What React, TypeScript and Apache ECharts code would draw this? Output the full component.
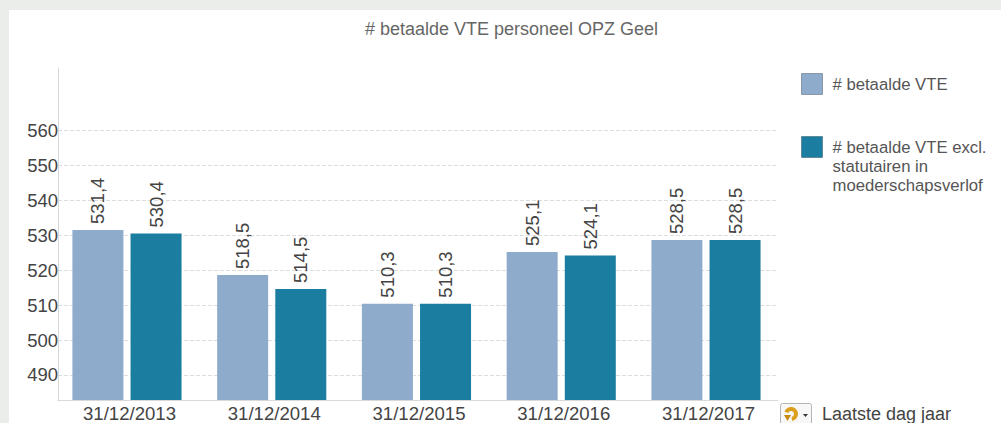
import React, { useEffect, useRef } from "react";
import * as echarts from "echarts";

const FONT = '"Liberation Sans", Arial, sans-serif';
const TITLE = "# betaalde VTE personeel OPZ Geel";
const CATEGORIES = ["31/12/2013", "31/12/2014", "31/12/2015", "31/12/2016", "31/12/2017"];
const SERIES_A_NAME = "# betaalde VTE";
const SERIES_B_NAME = "# betaalde VTE excl. statutairen in moederschapsverlof";
const SERIES_A = [531.4, 518.5, 510.3, 525.1, 528.5];
const SERIES_B = [530.4, 514.5, 510.3, 524.1, 528.5];
const Y_TICKS = [490, 500, 510, 520, 530, 540, 550, 560];
const FOOT_LABEL = "Laatste dag jaar";

const fmt = (v: number) => v.toFixed(1).replace(".", ",");

export default function App() {
  const ref = useRef<HTMLDivElement>(null);
  useEffect(() => {
    const chart = echarts.init(ref.current!, null, { renderer: "svg" });
    const yMin = 482.7;
    const yMax = 577.8;
    const labelCfg = {
      show: true,
      position: "top" as const,
      rotate: 90,
      distance: 6,
      color: "#444",
      fontFamily: FONT,
      fontSize: 18.5,
      align: "left" as const,
      verticalAlign: "middle" as const,
      formatter: (p: any) => fmt(p.value),
    };
    chart.setOption({
      animation: false,
      backgroundColor: "transparent",
      title: {
        text: TITLE,
        left: 506.5,
        top: 15,
        textAlign: "center",
        textStyle: { color: "#666", fontFamily: FONT, fontSize: 18, fontWeight: "normal" },
      },
      legend: {
        orient: "vertical",
        left: 796,
        top: 68,
        itemWidth: 21,
        itemHeight: 21,
        itemGap: 4.5,
        selectedMode: false,
        icon: "rect",
        textStyle: {
          color: "#555",
          fontFamily: FONT,
          fontSize: 16.7,
          lineHeight: 19,
          padding: [0, 0, 0, 5],
        },
        formatter: (n: string) =>
          n === SERIES_B_NAME ? "\n\n# betaalde VTE excl.\nstatutairen in\nmoederschapsverlof" : n,
        data: [
          { name: SERIES_A_NAME, itemStyle: { borderColor: "#8a97a8", borderWidth: 1 } },
          { name: SERIES_B_NAME, itemStyle: { borderColor: "#5f8a9c", borderWidth: 1 } },
        ],
      },
      grid: [
        { left: 58, top: 68, width: 720, height: 332.5 },
        { left: 54.6, top: 68, width: 723.75, height: 332.5 },
      ],
      xAxis: [
        {
          type: "category",
          gridIndex: 0,
          data: CATEGORIES,
          axisLine: { show: true, lineStyle: { color: "#d9d9d9", width: 1 } },
          axisTick: { show: false },
          axisLabel: { show: false },
          splitLine: { show: false },
        },
        {
          type: "category",
          gridIndex: 1,
          data: CATEGORIES,
          axisLine: { show: false },
          axisTick: { show: false },
          axisLabel: {
            color: "#444",
            fontFamily: FONT,
            fontSize: 18.6,
            margin: 4,
            padding: [0, 0, 0, 5],
          },
        },
      ],
      yAxis: [
        {
          type: "value",
          gridIndex: 0,
          min: yMin,
          max: yMax,
          axisLine: { show: true, lineStyle: { color: "#d9d9d9", width: 1 } },
          axisTick: { show: false, customValues: Y_TICKS },
          axisLabel: {
            customValues: Y_TICKS,
            color: "#444",
            fontFamily: FONT,
            fontSize: 18.5,
            margin: 0,
          },
          splitLine: { show: true, lineStyle: { color: "#dddddd", type: "dashed", width: 1 } },
        },
        {
          type: "value",
          gridIndex: 1,
          min: yMin,
          max: yMax,
          axisLine: { show: false },
          axisTick: { show: false },
          axisLabel: { show: false },
          splitLine: { show: false },
        },
      ],
      series: [
        {
          name: SERIES_A_NAME,
          type: "bar",
          xAxisIndex: 1,
          yAxisIndex: 1,
          data: SERIES_A,
          barWidth: 51,
          barGap: "14%",
          itemStyle: { color: "#8fabcb" },
          label: labelCfg,
        },
        {
          name: SERIES_B_NAME,
          type: "bar",
          xAxisIndex: 1,
          yAxisIndex: 1,
          data: SERIES_B,
          barWidth: 51,
          barGap: "14%",
          itemStyle: { color: "#1b7d9f" },
          label: labelCfg,
        },
      ],
      graphic: [
        {
          type: "group",
          silent: true,
          children: [
            {
              type: "rect",
              shape: { x: 780.5, y: 403.5, width: 31, height: 22, r: 2 },
              style: { fill: "#f7f7f7", stroke: "#b5b5b5", lineWidth: 1 },
            },
            {
              type: "arc",
              shape: { cx: 791, cy: 414, r: 5, startAngle: -2.8, endAngle: 1.4, clockwise: true },
              style: { stroke: "#dca01e", fill: "none", lineWidth: 4 },
            },
            {
              type: "polygon",
              shape: { points: [[784, 415], [791, 415], [787.5, 421]] },
              style: { fill: "#c98a12" },
            },
            {
              type: "polygon",
              shape: { points: [[803, 414], [808, 414], [805.5, 417]] },
              style: { fill: "#333" },
            },
            {
              type: "text",
              x: 822,
              y: 414,
              style: {
                text: FOOT_LABEL,
                fill: "#444",
                font: `18px ${FONT}`,
                verticalAlign: "middle",
                align: "left",
              },
            },
          ],
        },
      ],
    });
    return () => chart.dispose();
  }, []);
  return (
    <div style={{ position: "fixed", left: 0, top: 0, width: 1001, height: 423, background: "#ebedeb", overflow: "hidden" }}>
      <div style={{ position: "absolute", left: 9, top: 10, right: 0, bottom: 0, background: "#fff" }} />
      <div ref={ref} style={{ position: "absolute", left: 0, top: 0, width: 1001, height: 423 }} />
    </div>
  );
}
